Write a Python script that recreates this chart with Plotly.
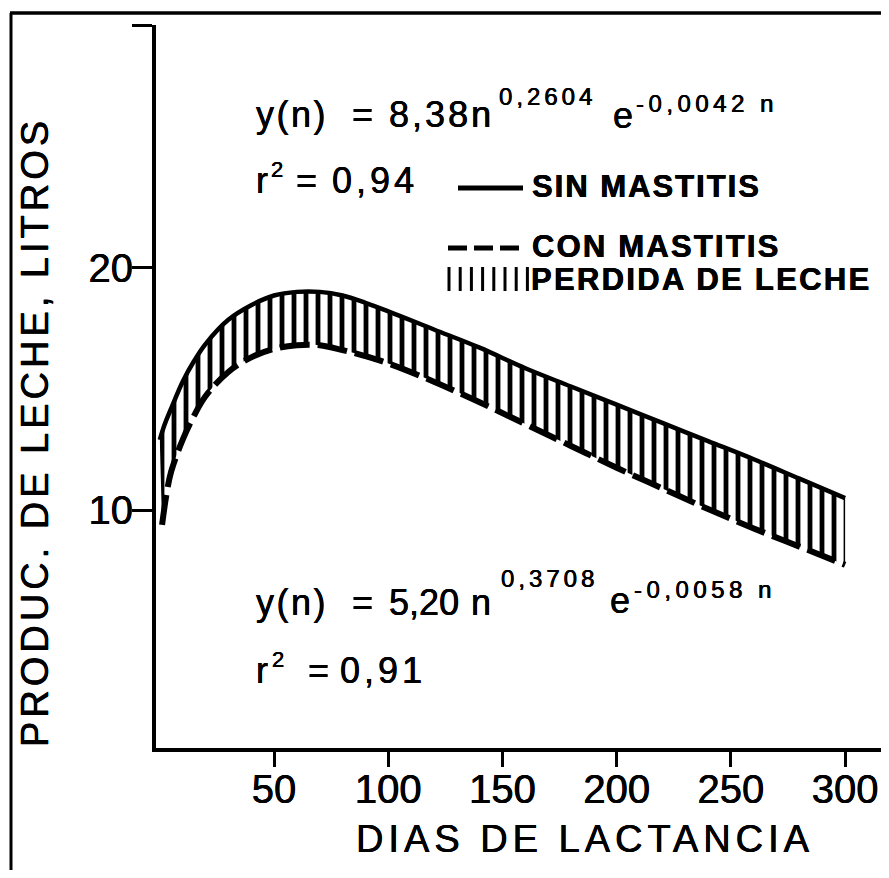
import plotly.graph_objects as go

# ---------------- data ----------------
dias_sin = [0, 2, 5, 10, 15, 20, 30, 40, 50, 60, 70, 80, 90, 100, 120, 140, 160, 180, 200, 220, 240, 260, 280, 300]
litros_sin = [12.9, 13.5, 14.2, 15.3, 16.15, 16.85, 17.85, 18.45, 18.85, 19.0, 19.0, 18.85, 18.55, 18.2,
              17.45, 16.7, 15.85, 15.1, 14.35, 13.6, 12.85, 12.1, 11.3, 10.5]
dias_con = [1, 3, 5, 10, 15, 20, 30, 40, 50, 60, 70, 80, 90, 100, 120, 140, 160, 180, 200, 220, 240, 260, 280, 300]
litros_con = [9.4, 10.7, 11.6, 12.9, 13.9, 14.7, 15.7, 16.3, 16.65, 16.8, 16.8, 16.6, 16.35, 16.05,
              15.3, 14.45, 13.55, 12.65, 11.75, 10.9, 10.05, 9.25, 8.5, 7.75]
x_ticks = [50, 100, 150, 200, 250, 300]
y_ticks = [10, 20, 30]
y_tick_text = ["10", "20", ""]

FONT = "Liberation Sans, Arial, Helvetica, sans-serif"
SHADOW = "0.35px 0 0 black, -0.35px 0 0 black"
OFF = 8                      # page body margin of the browser
W, H = 889 - 2 * OFF, 878 - 2 * OFF
ML, MR, MT = 156 - OFF, 0, 25 - OFF
PLOT_BOTTOM = 748 - OFF
MB = H - PLOT_BOTTOM
PW, PH = W - ML - MR, PLOT_BOTTOM - MT
X0 = -1.66
PX_PER_DAY = 2.2844
X1 = X0 + PW / PX_PER_DAY


def px(x):
    """reference pixel x -> paper"""
    return (x - OFF - ML) / PW


def py(y):
    """reference pixel y -> paper"""
    return (PLOT_BOTTOM - (y - OFF)) / PH


fig = go.Figure()

# lower bound (invisible) for the hatched area
fig.add_trace(go.Scatter(x=dias_con, y=litros_con, mode="lines",
                         line=dict(color="rgba(0,0,0,0)", width=0, shape="spline"),
                         hoverinfo="skip", showlegend=False))
# SIN MASTITIS (solid) with hatched loss area down to the CON MASTITIS curve
fig.add_trace(go.Scatter(x=dias_sin, y=litros_sin, mode="lines", name="SIN MASTITIS",
                         line=dict(color="black", width=4.5, shape="spline"),
                         fill="tonexty", fillcolor="white",
                         fillpattern=dict(shape="|", size=12, solidity=0.4, fgopacity=1,
                                          fgcolor="black", bgcolor="white"),
                         showlegend=False))
# CON MASTITIS (dashed)
fig.add_trace(go.Scatter(x=dias_con, y=litros_con, mode="lines", name="CON MASTITIS",
                         line=dict(color="black", width=6, dash="30px,8px", shape="spline"),
                         showlegend=False))

annotations = []


def ann(text, x, yb, size, bold=False, ls=0, xanchor="left"):
    """x = left pixel, yb = baseline pixel (reference coordinates)"""
    t = text
    if ls:
        t = '<span style="letter-spacing:%spx">%s</span>' % (ls, t)
    if bold:
        t = "<b>" + t + "</b>"
    yc = yb - 0.3465 * size
    annotations.append(dict(text=t, x=px(x), y=py(yc), xref="paper", yref="paper",
                            xanchor=xanchor, yanchor="middle", showarrow=False,
                            borderpad=0, borderwidth=0,
                            font=dict(family=FONT, size=size, color="black",
                                      shadow=SHADOW)))


# equation 1 (sin mastitis)
ann("y(n)", 256, 127, 36, ls=2.5)
ann("=", 352, 127, 36)
ann("8,38n", 389, 127, 36, ls=3)
ann("0,2604", 499, 105, 24, ls=4)
ann("e", 613, 128, 36)
ann("-0,0042 n", 636, 112, 24, ls=4.5)
ann("r", 256, 193, 36)
ann("2", 271, 177, 22)
ann("=", 296, 193, 36)
ann("0,94", 332, 193, 36, ls=4)

# equation 2 (con mastitis)
ann("y(n)", 256, 615, 36, ls=2.5)
ann("=", 352, 615, 36)
ann("5,20", 389, 615, 36)
ann("n", 471, 615, 36)
ann("0,3708", 501, 587, 24, ls=4)
ann("e", 610, 613, 36)
ann("-0,0058 n", 634, 598, 24, ls=4.5)
ann("r", 256, 683, 36)
ann("2", 272, 667, 22)
ann("=", 308, 683, 36)
ann("0,91", 340, 683, 36, ls=4)

# legend texts
ann("SIN MASTITIS", 532, 197, 31, bold=True, ls=2)
ann("CON MASTITIS", 532, 257, 31, bold=True, ls=2.2)
ann("PERDIDA DE LECHE", 531, 290, 31, bold=True, ls=2.3)

# axis titles
ann("DIAS DE LACTANCIA", 356, 852, 38, ls=5)
annotations.append(dict(text='<span style="letter-spacing:4px">PRODUC. DE LECHE, LITROS</span>',
                        x=px(35), y=py(432), xref="paper", yref="paper", textangle=-90,
                        xanchor="center", yanchor="middle", showarrow=False, borderpad=0,
                        font=dict(family=FONT, size=38, color="black", shadow=SHADOW)))

shapes = []
# outer frame (left and top edges)
shapes.append(dict(type="line", xref="paper", yref="paper", x0=px(11), x1=px(11),
                   y0=py(13), y1=py(900), line=dict(color="black", width=3)))
shapes.append(dict(type="line", xref="paper", yref="paper", x0=px(10), x1=px(900),
                   y0=py(13), y1=py(13), line=dict(color="black", width=3.5)))
# legend symbols
shapes.append(dict(type="line", xref="paper", yref="paper", x0=px(458), x1=px(523),
                   y0=py(188), y1=py(188), line=dict(color="black", width=5)))
shapes.append(dict(type="line", xref="paper", yref="paper", x0=px(448), x1=px(521),
                   y0=py(248), y1=py(248), line=dict(color="black", width=5, dash="19px,7px")))
for i in range(8):
    xx = 449 + i * 11.2
    shapes.append(dict(type="line", xref="paper", yref="paper", x0=px(xx), x1=px(xx),
                       y0=py(267), y1=py(291), line=dict(color="black", width=3)))

tickfont = dict(family=FONT, size=40, color="black", shadow=SHADOW)
fig.update_layout(
    width=W, height=H,
    margin=dict(l=ML, r=MR, t=MT, b=MB, autoexpand=False),
    paper_bgcolor="white", plot_bgcolor="white",
    showlegend=False,
    font=dict(family=FONT, color="black"),
    annotations=annotations,
    shapes=shapes,
    xaxis=dict(range=[X0, X1], showline=True, linewidth=4, linecolor="black",
               ticks="outside", ticklen=15, tickwidth=3, tickcolor="black",
               tickvals=x_ticks, tickfont=tickfont, ticklabelstandoff=-12,
               showgrid=False, zeroline=False, fixedrange=True),
    yaxis=dict(range=[0.2, 30], showline=True, linewidth=4, linecolor="black",
               ticks="outside", ticklen=20, tickwidth=3, tickcolor="black",
               tickvals=y_ticks, ticktext=y_tick_text, tickfont=tickfont,
               ticklabelstandoff=-9,
               showgrid=False, zeroline=False, fixedrange=True),
)

fig.write_html("out.html")
